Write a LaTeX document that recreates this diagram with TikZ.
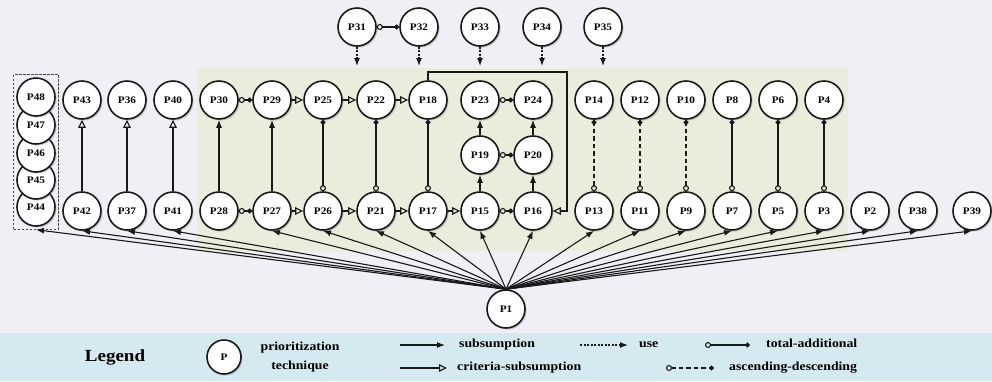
\documentclass[tikz,border=0pt]{standalone}
\usepackage{fontspec}
\setmainfont{Liberation Serif}[FakeStretch=1.12]
\usetikzlibrary{arrows.meta,shadows,fit}
\definecolor{bgpage}{RGB}{240,239,245}
\definecolor{bggreen}{RGB}{232,237,220}
\definecolor{bglegend}{RGB}{212,234,240}
\definecolor{ink}{RGB}{25,25,25}
\begin{document}
\begin{tikzpicture}[x=1pt,y=-1pt,
  pnode/.style={circle, draw=ink, line width=1.6pt, fill=white, minimum size=38pt,
    inner sep=0pt, font=\bfseries\fontsize{10}{12}\selectfont,
    drop shadow={shadow xshift=1.6pt, shadow yshift=-1.6pt, opacity=0.35}},
  legtext/.style={inner sep=0pt, font=\bfseries\fontsize{12.3}{18.5}\selectfont},
  edge/.style={draw=ink, line width=1.1pt},
  sub/.style={edge, -{Latex[length=8pt,width=6pt]}},
  crit/.style={edge, -{Triangle[open,length=8pt,width=7.5pt,line width=1.1pt]}},
  useedge/.style={edge, dash pattern=on 2pt off 1.5pt, -{Latex[length=8pt,width=6pt]}},
  totadd/.style={edge, {Circle[open,length=6pt,line width=1.1pt]}-{Circle[length=5pt]}},
  ascdesc/.style={totadd, dash pattern=on 4.5pt off 3pt},
]
% backgrounds
\fill[bgpage] (0,0) rectangle (992,333);
\fill[bglegend] (0,333) rectangle (992,381);
\fill[bggreen] (197,68) rectangle (848,251);
\useasboundingbox (0,0) rectangle (992,381);

% stacked group on the left
\node[pnode] (P44) at (36,207) {P44};
\node[pnode] (P45) at (36,180) {P45};
\node[pnode] (P46) at (36,153) {P46};
\node[pnode] (P47) at (36,125) {P47};
\node[pnode] (P48) at (36,97) {P48};
\node[draw=ink!80, line width=0.8pt, dash pattern=on 2.5pt off 1.5pt, inner sep=2.5pt,
      fit=(P44)(P48)] (stack) {};

% upper row
\foreach \n/\x in {P43/82,P36/127,P40/173,P30/219,P29/272,P25/323,P22/376,P18/428,
                   P23/480,P24/533,P14/594,P12/640,P10/686,P8/732,P6/778,P4/824}
  \node[pnode] (\n) at (\x,100) {\n};
% middle row
\node[pnode] (P19) at (480,155) {P19};
\node[pnode] (P20) at (533,155) {P20};
% lower row
\foreach \n/\x in {P42/82,P37/127,P41/173,P28/219,P27/272,P26/323,P21/376,P17/428,
                   P15/480,P16/533,P13/594,P11/640,P9/686,P7/732,P5/778,P3/824,
                   P2/870,P38/918,P39/972}
  \node[pnode] (\n) at (\x,211) {\n};
% top row
\foreach \n/\x in {P31/357,P32/419,P33/480,P34/542,P35/603}
  \node[pnode] (\n) at (\x,27) {\n};
% root
\node[pnode] (P1) at (506,309) {P1};

% horizontal relations
\draw[totadd] (P30) -- (P29);
\draw[crit] (P29) -- (P25);
\draw[crit] (P25) -- (P22);
\draw[crit] (P22) -- (P18);
\draw[totadd] (P23) -- (P24);
\draw[totadd] (P19) -- (P20);
\draw[totadd] (P28) -- (P27);
\draw[crit] (P27) -- (P26);
\draw[crit] (P26) -- (P21);
\draw[crit] (P21) -- (P17);
\draw[crit] (P17) -- (P15);
\draw[totadd] (P15) -- (P16);
\draw[totadd] (P31) -- (P32);

% vertical relations
\draw[sub] (P28) -- (P30);
\draw[sub] (P27) -- (P29);
\draw[totadd] (P26) -- (P25);
\draw[totadd] (P21) -- (P22);
\draw[totadd] (P17) -- (P18);
\draw[sub] (P15) -- (P19);
\draw[sub] (P19) -- (P23);
\draw[sub] (P16) -- (P20);
\draw[sub] (P20) -- (P24);
\draw[ascdesc] (P13) -- (P14);
\draw[ascdesc] (P11) -- (P12);
\draw[ascdesc] (P9) -- (P10);
\draw[totadd] (P7) -- (P8);
\draw[totadd] (P5) -- (P6);
\draw[totadd] (P3) -- (P4);
\draw[crit] (P42) -- (P43);
\draw[crit] (P37) -- (P36);
\draw[crit] (P41) -- (P40);

% routed relation from P18 to P16
\coordinate (bend) at (567,72);
\draw[crit] (P18.north) |- (bend) |- (P16.east);

% use relations into the shaded group
\foreach \n/\x in {P31/357,P32/419,P33/480,P34/542,P35/603} {
  \coordinate (\n use) at (\x,66);
  \draw[useedge] (\n) -- (\n use);
}

% subsumption fan from the root
\foreach \t in {stack,P42,P37,P41,P27,P26,P21,P17,P15,P16,P13,P11,P9,P7,P5,P3,P2,P38,P39}
  \draw[sub] (P1.north) -- (\t.south);

% legend
\node[inner sep=0pt, font=\bfseries\fontsize{17}{20}\selectfont] (legtitle) at (115,357) {Legend};
\node[pnode, minimum size=34pt] (legP) at (224,357) {P};
\node[legtext, align=center] (legPtext) at (300,357) {prioritization\\technique};

\coordinate (la1) at (400,345); \coordinate (la2) at (445,345);
\draw[sub] (la1) -- (la2);
\node[legtext, anchor=mid west] (lt1) at (459,345) {subsumption};

\coordinate (lb1) at (400,368); \coordinate (lb2) at (447,368);
\draw[crit] (lb1) -- (lb2);
\node[legtext, anchor=mid west] (lt2) at (457,368) {criteria-subsumption};

\coordinate (lc1) at (580,345); \coordinate (lc2) at (628,345);
\draw[useedge] (lc1) -- (lc2);
\node[legtext, anchor=mid west] (lt3) at (639,345) {use};

\coordinate (ld1) at (705,345); \coordinate (ld2) at (750,345);
\draw[totadd] (ld1) -- (ld2);
\node[legtext, anchor=mid west] (lt4) at (766,345) {total-additional};

\coordinate (le1) at (666,368); \coordinate (le2) at (714,368);
\draw[ascdesc] (le1) -- (le2);
\node[legtext, anchor=mid west] (lt5) at (729,368) {ascending-descending};
\end{tikzpicture}
\end{document}
